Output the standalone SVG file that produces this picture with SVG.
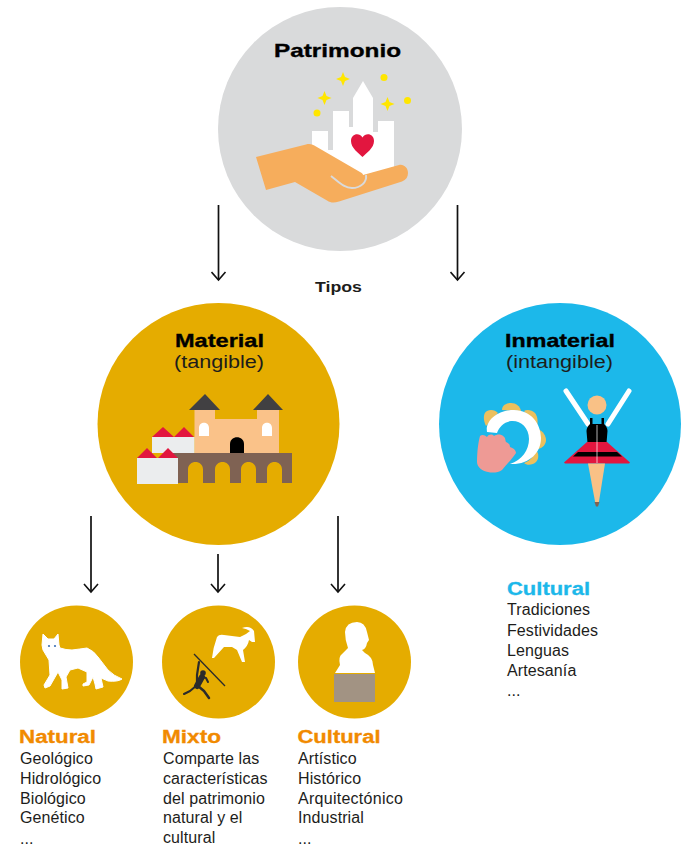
<svg xmlns="http://www.w3.org/2000/svg" width="687" height="846" viewBox="0 0 687 846">
<defs>
<marker id="ah" viewBox="0 0 12 16" refX="10" refY="8" markerWidth="12" markerHeight="16" markerUnits="userSpaceOnUse" orient="auto"><path d="M2 1 10 8 2 15" fill="none" stroke="#111" stroke-width="1.600"/></marker>
</defs>
<style>
text{font-family:"Liberation Sans",Arial,sans-serif;fill:#1d1d1b}
.h{font-size:19px;font-weight:700;stroke:#000;stroke-width:.35px;fill:#000}
.s{font-size:18px}
.o{font-size:17.500px;font-weight:700;fill:#f18a00;stroke:#f18a00;stroke-width:.3px}
.b{font-size:17.500px;font-weight:700;fill:#1cb8ea;stroke:#1cb8ea;stroke-width:.3px}
.t{font-size:16px;letter-spacing:.1px}
.c{stroke:#111;stroke-width:1.700;fill:none;marker-end:url(#ah)}
</style>
<rect width="687" height="846" fill="#fff"/>
<g id="connectors">
<line class="c" x1="218.500" y1="205" x2="218.500" y2="280"/>
<line class="c" x1="457.500" y1="205" x2="457.500" y2="280"/>
<line class="c" x1="91" y1="516" x2="91" y2="592"/>
<line class="c" x1="218" y1="554" x2="218" y2="592"/>
<line class="c" x1="338" y1="516" x2="338" y2="592"/>
</g>
<text x="315" y="292" textLength="47" lengthAdjust="spacingAndGlyphs" style="font-size:15px;font-weight:700">Tipos</text>
<g id="patrimonio">
<circle cx="340" cy="129" r="122" fill="#d9dadb"/>
<text class="h" x="274" y="57" textLength="127" lengthAdjust="spacingAndGlyphs">Patrimonio</text>
<path d="M312 131h16v19h5V111h16v16h4V98L363 81l10 17v34h5v-11h16v49l-44 10-38-30z" fill="#fff"/>
<path d="M362.500 157c-4-4-11.500-9-11.500-16 0-7 8-9 11.500-3.500 3.500-5.500 11.500-3.500 11.500 3.500 0 7-7.500 12-11.500 16z" fill="#e2163f"/>
<g fill="#ffe600">
<path d="M343 72l2 5 5 2-5 2-2 5-2-5-5-2 5-2z"/>
<path d="M324.500 91l2 5 5 2-5 2-2 5-2-5-5-2 5-2z"/>
<path d="M387.500 97l2 5 5 2-5 2-2 5-2-5-5-2 5-2z"/>
<circle cx="384" cy="77.500" r="3.500"/>
<circle cx="407.500" cy="100.500" r="3.500"/>
<circle cx="317" cy="113" r="3.500"/>
</g>
<path d="M256 157l50-12.500c4-1 7 0 10 2l44 25.500c2 1 3 2 3 3l36-10c5-1 9 3 9 8 0 4-2 7-6 8.500l-63 20c-5 1.500-8 1.500-12-1l-32-18.500-29 8z" fill="#f6ad5c"/>
<path d="M331 176c8 6 13 12 21 12 9 0 15-6 14-13" fill="none" stroke="#d9dadb" stroke-width="2"/>
</g>
<g id="material">
<circle cx="218.500" cy="424" r="121" fill="#e5ac00"/>
<text class="h" x="175" y="347" textLength="89" lengthAdjust="spacingAndGlyphs">Material</text>
<text class="s" x="174" y="368" textLength="90" lengthAdjust="spacingAndGlyphs">(tangible)</text>
<path d="M189 410l16-16 15 16zM253 410l15-16 15 16z" fill="#414042"/>
<path d="M194.500 410h20.500v9h42v-9h22v43h-84.500z" fill="#fac289"/>
<path d="M199 436v-8c0-7 10-7 10 0v8zM262 436v-8c0-7 10-7 10 0v8z" fill="#fff"/>
<path d="M230 453v-9c0-9 14-9 14 0v9z" fill="#000"/>
<path d="M173 453h119v30h-10v-13.500c0-10-15-10-15 0V483h-11v-13.500c0-10-15-10-15 0V483h-11v-13.500c0-10-15-10-15 0V483h-12v-13.500c0-10-15-10-15 0V483h-15z" fill="#7f6253"/>
<rect x="152" y="437" width="42.500" height="16" fill="#ebedee"/>
<rect x="137" y="458" width="41" height="26" fill="#ebedee"/>
<path d="M152 437l11-10 11 10zM174 437l10-10 10 10zM137 458l10-10 10 10zM158 458l10-10 10 10z" fill="#e2163f"/>
</g>
<g id="inmaterial">
<circle cx="560" cy="424" r="121" fill="#1cb8ea"/>
<text class="h" x="505" y="347" textLength="110" lengthAdjust="spacingAndGlyphs">Inmaterial</text>
<text class="s" x="506" y="368" textLength="107" lengthAdjust="spacingAndGlyphs">(intangible)</text>
<g fill="#ecc05e">
<path d="M486 426c-3-6-3-13 1-15 4-2 8-1 11 2z"/>
<path d="M502 410c0-5 5-7 9-7 5 0 9 3 10 8z"/>
<path d="M524 411c3-2 8-1 11 2 3 4 3 9 2 14z"/>
<path d="M538 429c5 2 8 7 8 11s-3 8-8 9z"/>
<path d="M524 463c6-2 10-7 12-13 3 3 3 9 0 12-3 3-9 4-12 1z"/>
</g>
<path d="M487 432c-2-11 10-22 27-22 17 0 27 14 27 28 0 15-12 27-31 26 12-4 19-14 19-25 0-12-9-19-18-18-7 1-12 6-14 12z" fill="#fff"/>
<path d="M477 462c0-9 1-19 3-26 2-2 5-1 7 1 2-3 5-3 7-1 3-2 7-2 9 0 3 2 2 4 3 6 3 1 4 3 4 5 3 1 6 3 6 6-3 5-9 11-14 17-4 3-10 3-14 2-6-1-11-5-11-10z" fill="#ee9a95"/>
<path d="M566 391l22 33M629 391l-21 33" stroke="#fff" stroke-width="5" stroke-linecap="round" fill="none"/>
<circle cx="597" cy="405" r="9.500" fill="#f9c186"/>
<path d="M590 418h2.500v6h9v-6h2.500v6c2 2 3.500 4 3.500 7l-1 12h-19l-1-12c0-3 1.500-5 3.500-7z" fill="#000"/>
<path d="M587 442h20l23 20.500-1 1h-64l-1-1z" fill="#e2163f"/>
<path d="M578 452h39l5 4.500h-49z" fill="#000"/>
<path d="M588 463.500h17l-6 38-2 5-2-5z" fill="#f9c186"/>
<path d="M594.500 502h5l-1.500 4.500h-2z" fill="#7f6253"/>
<line x1="597" y1="425" x2="597" y2="463" stroke="#fff" stroke-width=".7"/>
</g>
<g id="natural">
<circle cx="76.500" cy="662" r="56.500" fill="#e5ac00"/>
<path d="M43 634L48 639H54L58 634 59 645 60 648Q66 650 72 650 80 649 87 648 94 651 98 657L108 670Q114 676 122 679 118 682 108 681L101 678 103 687 96 689 95 684 93 677 89 685 83 686 83 684 87 682 87 672 78 668 70 670 66 677 68 688 62 689 62 680 58 672 50 686 45 688 44 685 50 675 49 660 43 650 42 645Z" fill="#fff" stroke="#fff" stroke-linejoin="round"/>
<circle cx="49" cy="646" r="1.100" fill="#3b6fb5"/>
<circle cx="55" cy="646" r="1.100" fill="#3b6fb5"/>
</g>
<g id="mixto">
<circle cx="218.500" cy="662" r="56.500" fill="#e5ac00"/>
<path d="M217 637Q219 634 224 635L240 637 246 634 250 631Q247 629 242 628 250 625 254 631L255 642 252 642 249 640Q248 646 243 650L245 662 242 662 237 650 232 647 224 647 214 658 212 658Q213 648 217 637Z" fill="#fff"/>
<line x1="194" y1="654" x2="225" y2="686" stroke="#2b2b2b" stroke-width="1.300"/>
<g fill="none" stroke="#2b2b2b" stroke-linejoin="round" stroke-linecap="round">
<path d="M199 662L197 675 197 684" stroke-width="2.200"/>
<path d="M202 677L197 686" stroke-width="6"/>
<path d="M196 686L190 691 184 694" stroke-width="2"/>
<path d="M198 686L204 691 209 698" stroke-width="2.500"/>
<path d="M202 677L206 678 208 682" stroke-width="2"/>
</g>
<circle cx="203" cy="673" r="2.800" fill="#2b2b2b"/>
</g>
<g id="cultural-material">
<circle cx="354.500" cy="662" r="56.500" fill="#e5ac00"/>
<path d="M345 632Q346 622 357 622 365 622 367 632L369 640 367 643Q366 649 362 650L365 653Q373 657 373 665L375 673H335L340 665Q338 657 342 654L348 648Q345 640 345 632Z" fill="#fff"/>
<rect x="334" y="674" width="41" height="28" fill="#a29383"/>
</g>
<g id="natural-text">
<text class="o" x="19" y="743" textLength="77" lengthAdjust="spacingAndGlyphs">Natural</text>
<text class="t" x="20" y="764">Geológico</text>
<text class="t" x="20" y="783.500">Hidrológico</text>
<text class="t" x="20" y="803.500">Biológico</text>
<text class="t" x="20" y="823">Genético</text>
<text class="t" x="20" y="844">...</text>
</g>
<g id="mixto-text">
<text class="o" x="162" y="743" textLength="59" lengthAdjust="spacingAndGlyphs">Mixto</text>
<text class="t" x="163" y="764">Comparte las</text>
<text class="t" x="163" y="783.500">características</text>
<text class="t" x="163" y="803.500">del patrimonio</text>
<text class="t" x="163" y="823">natural y el</text>
<text class="t" x="163" y="843">cultural</text>
</g>
<g id="cultural-material-text">
<text class="o" x="297.500" y="743" textLength="83" lengthAdjust="spacingAndGlyphs">Cultural</text>
<text class="t" x="298" y="764">Artístico</text>
<text class="t" x="298" y="783.500">Histórico</text>
<text class="t" x="298" y="803.500" textLength="105">Arquitectónico</text>
<text class="t" x="298" y="823">Industrial</text>
<text class="t" x="298" y="844">...</text>
</g>
<g id="cultural-inmaterial-text">
<text class="b" x="507" y="595" textLength="83" lengthAdjust="spacingAndGlyphs">Cultural</text>
<text class="t" x="507" y="615">Tradiciones</text>
<text class="t" x="507" y="635.500">Festividades</text>
<text class="t" x="507" y="656">Lenguas</text>
<text class="t" x="507" y="676">Artesanía</text>
<text class="t" x="507" y="696">...</text>
</g>
</svg>
